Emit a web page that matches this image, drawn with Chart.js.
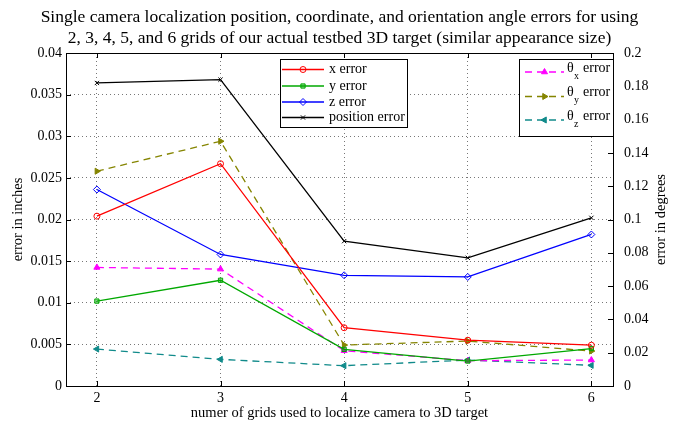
<!DOCTYPE html>
<html>
<head>
<style>
  body { margin: 0; background: #fff; }
  #wrap { width: 678px; height: 422px; }
</style>
</head>
<body>

<div id="wrap">
  <canvas id="myChart"></canvas>
</div>

<script src="https://cdn.jsdelivr.net/npm/chart.js"></script>

<script>
  // number of grids used (x axis)
  const grids = [2, 3, 4, 5, 6];

  // errors in inches (left axis)
  const xErr   = [0.0204, 0.0267, 0.0070, 0.0055, 0.0049];
  const yErr   = [0.0102, 0.0127, 0.0044, 0.0030, 0.0045];
  const zErr   = [0.0236, 0.0158, 0.0133, 0.0131, 0.0182];
  const posErr = [0.0364, 0.0368, 0.0174, 0.0154, 0.0202];

  // angle errors in degrees (right axis)
  const thetaX = [0.0712, 0.0702, 0.0212, 0.0152, 0.0156];
  const thetaY = [0.129, 0.147, 0.0246, 0.027, 0.021];
  const thetaZ = [0.0222, 0.016, 0.0122, 0.0156, 0.0124];

  const titleLines = [
    'Single camera localization position, coordinate, and orientation angle errors for using',
    '2, 3, 4, 5, and 6 grids of our actual testbed 3D target (similar appearance size)'
  ];

  const serif = '"Liberation Serif", "Times New Roman", serif';

  function pts(vals) {
    return grids.map((g, i) => ({ x: g, y: vals[i] }));
  }

  function trim(v) {
    return String(parseFloat(v.toFixed(4)));
  }
</script>

<script>
  const data = {
    datasets: [
      { label: 'x error', data: pts(xErr), yAxisID: 'y',
        borderColor: '#ff0000', backgroundColor: 'rgba(0,0,0,0)',
        pointStyle: 'circle', pointRadius: 3, legendGroup: 0 },
      { label: 'y error', data: pts(yErr), yAxisID: 'y',
        borderColor: '#00a800', backgroundColor: 'rgba(0,168,0,0.45)',
        pointStyle: 'rect', pointRadius: 3, legendGroup: 0 },
      { label: 'z error', data: pts(zErr), yAxisID: 'y',
        borderColor: '#0000ff', backgroundColor: 'rgba(0,0,0,0)',
        pointStyle: 'rectRot', pointRadius: 3.5, legendGroup: 0 },
      { label: 'position error', data: pts(posErr), yAxisID: 'y',
        borderColor: '#000000', backgroundColor: 'rgba(0,0,0,0)',
        pointStyle: 'crossRot', pointRadius: 3, legendGroup: 0 },
      { label: 'x', data: pts(thetaX), yAxisID: 'y2',
        borderColor: '#ff00ff', backgroundColor: '#ff00ff', borderDash: [7, 5],
        pointStyle: 'triangle', pointRadius: 3.5, pointRotation: 0, legendGroup: 1 },
      { label: 'y', data: pts(thetaY), yAxisID: 'y2',
        borderColor: '#858500', backgroundColor: '#858500', borderDash: [7, 5],
        pointStyle: 'triangle', pointRadius: 3.5, pointRotation: 90, legendGroup: 1 },
      { label: 'z', data: pts(thetaZ), yAxisID: 'y2',
        borderColor: '#108a8a', backgroundColor: '#108a8a', borderDash: [7, 5],
        pointStyle: 'triangle', pointRadius: 3.5, pointRotation: -90, legendGroup: 1 }
    ]
  };

  function marker(ctx, ds, x, y) {
    ctx.save();
    ctx.setLineDash([]);
    ctx.strokeStyle = ds.borderColor;
    ctx.fillStyle = ds.backgroundColor;
    ctx.lineWidth = 1;
    Chart.helpers.drawPoint(ctx, {
      pointStyle: ds.pointStyle, rotation: ds.pointRotation || 0,
      radius: ds.pointRadius, borderWidth: 1
    }, x, y);
    ctx.restore();
  }

  function legendLine(ctx, ds, x0, x1, y) {
    ctx.save();
    ctx.strokeStyle = ds.borderColor;
    ctx.lineWidth = 1.3;
    ctx.setLineDash(ds.borderDash || []);
    ctx.beginPath();
    ctx.moveTo(x0, y);
    ctx.lineTo(x1, y);
    ctx.stroke();
    ctx.restore();
    marker(ctx, ds, (x0 + x1) / 2, y);
  }

  const decor = {
    id: 'decor',
    afterDraw(chart) {
      const ctx = chart.ctx;
      const a = chart.chartArea;
      const sx = chart.scales.x, sy = chart.scales.y, sy2 = chart.scales.y2;

      ctx.save();
      // box
      ctx.strokeStyle = '#000';
      ctx.lineWidth = 1;
      ctx.setLineDash([]);
      ctx.strokeRect(Math.round(a.left) + 0.5, Math.round(a.top) + 0.5,
        Math.round(a.right - a.left), Math.round(a.bottom - a.top));

      // inward ticks
      ctx.beginPath();
      sx.ticks.forEach(t => {
        const px = Math.round(sx.getPixelForValue(t.value)) + 0.5;
        ctx.moveTo(px, a.bottom); ctx.lineTo(px, a.bottom - 5);
        ctx.moveTo(px, a.top); ctx.lineTo(px, a.top + 5);
      });
      sy.ticks.forEach(t => {
        const py = Math.round(sy.getPixelForValue(t.value)) + 0.5;
        ctx.moveTo(a.left, py); ctx.lineTo(a.left + 5, py);
      });
      sy2.ticks.forEach(t => {
        const py = Math.round(sy2.getPixelForValue(t.value)) + 0.5;
        ctx.moveTo(a.right, py); ctx.lineTo(a.right - 5, py);
      });
      ctx.stroke();

      // title
      ctx.fillStyle = '#000';
      ctx.font = '17.5px ' + serif;
      ctx.textAlign = 'center';
      ctx.textBaseline = 'middle';
      const cx = (a.left + a.right) / 2;
      ctx.fillText(titleLines[0], cx, 17);
      ctx.fillText(titleLines[1], cx, 38);

      // right axis title (reads bottom to top)
      ctx.save();
      ctx.translate(661, (a.top + a.bottom) / 2);
      ctx.rotate(-Math.PI / 2);
      ctx.font = '14.5px ' + serif;
      ctx.fillText('error in degrees', 0, 0);
      ctx.restore();

      const dsets = chart.data.datasets;

      // legend 1
      ctx.fillStyle = '#fff';
      ctx.fillRect(280, 59, 127, 68);
      ctx.strokeStyle = '#000';
      ctx.strokeRect(280.5, 59.5, 127, 68);
      const rows1 = [69.5, 86, 102, 117.5];
      ctx.font = '14px ' + serif;
      ctx.textAlign = 'left';
      dsets.filter(d => d.legendGroup === 0).forEach((d, i) => {
        legendLine(ctx, d, 282, 324, rows1[i]);
        ctx.fillStyle = '#000';
        ctx.fillText(d.label, 329, rows1[i]);
      });

      // legend 2
      ctx.fillStyle = '#fff';
      ctx.fillRect(519, 59, 94, 77);
      ctx.strokeStyle = '#000';
      ctx.strokeRect(519.5, 59.5, 94, 77);
      const rows2 = [72, 96.5, 120];
      dsets.filter(d => d.legendGroup === 1).forEach((d, i) => {
        legendLine(ctx, d, 525, 564, rows2[i]);
        ctx.fillStyle = '#000';
        ctx.font = '14px ' + serif;
        ctx.fillText('\u03b8', 567, rows2[i] - 4);
        ctx.font = '10px ' + serif;
        ctx.fillText(d.label, 574, rows2[i] + 4);
        ctx.font = '14px ' + serif;
        ctx.fillText('error', 583, rows2[i] - 4);
      });

      ctx.restore();
    }
  };

  const tickFont = { family: serif, size: 14 };
  const titleFont = { family: serif, size: 14.5 };
  const dotted = { color: '#777', lineWidth: 1, drawTicks: false };
  const noBorder = { display: false, dash: [1, 3] };

  const config = {
    type: 'line',
    data: data,
    plugins: [decor],
    options: {
      responsive: true,
      maintainAspectRatio: false,
      animation: false,
      layout: { padding: { top: 53, left: 0, right: 0, bottom: 0 } },
      elements: {
        line: { borderWidth: 1.3, tension: 0 },
        point: { borderWidth: 1 }
      },
      plugins: {
        legend: { display: false },
        tooltip: { enabled: false }
      },
      scales: {
        x: {
          type: 'linear', min: 1.75, max: 6.175,
          afterFit: s => { s.height = 36; },
          border: noBorder,
          grid: dotted,
          ticks: { stepSize: 1, includeBounds: false, padding: 4,
                   color: '#000', font: tickFont },
          title: { display: true, text: 'numer of grids used to localize camera to 3D target',
                   color: '#000', font: titleFont, padding: { top: 0, bottom: 0 } }
        },
        y: {
          position: 'left', min: 0, max: 0.04,
          afterFit: s => { s.width = 66; },
          border: noBorder,
          grid: dotted,
          ticks: { stepSize: 0.005, padding: 4, color: '#000', font: tickFont,
                   callback: v => trim(v) },
          title: { display: true, text: 'error in inches', color: '#000',
                   font: titleFont, padding: { top: 9, bottom: 0 } }
        },
        y2: {
          position: 'right', min: 0, max: 0.2,
          afterFit: s => { s.width = 65; },
          border: { display: false },
          grid: { display: false, drawTicks: false },
          ticks: { stepSize: 0.02, padding: 11, color: '#000', font: tickFont,
                   callback: v => trim(v) }
        }
      }
    }
  };

  const myChart = new Chart(document.getElementById('myChart'), config);
</script>

</body>
</html>
